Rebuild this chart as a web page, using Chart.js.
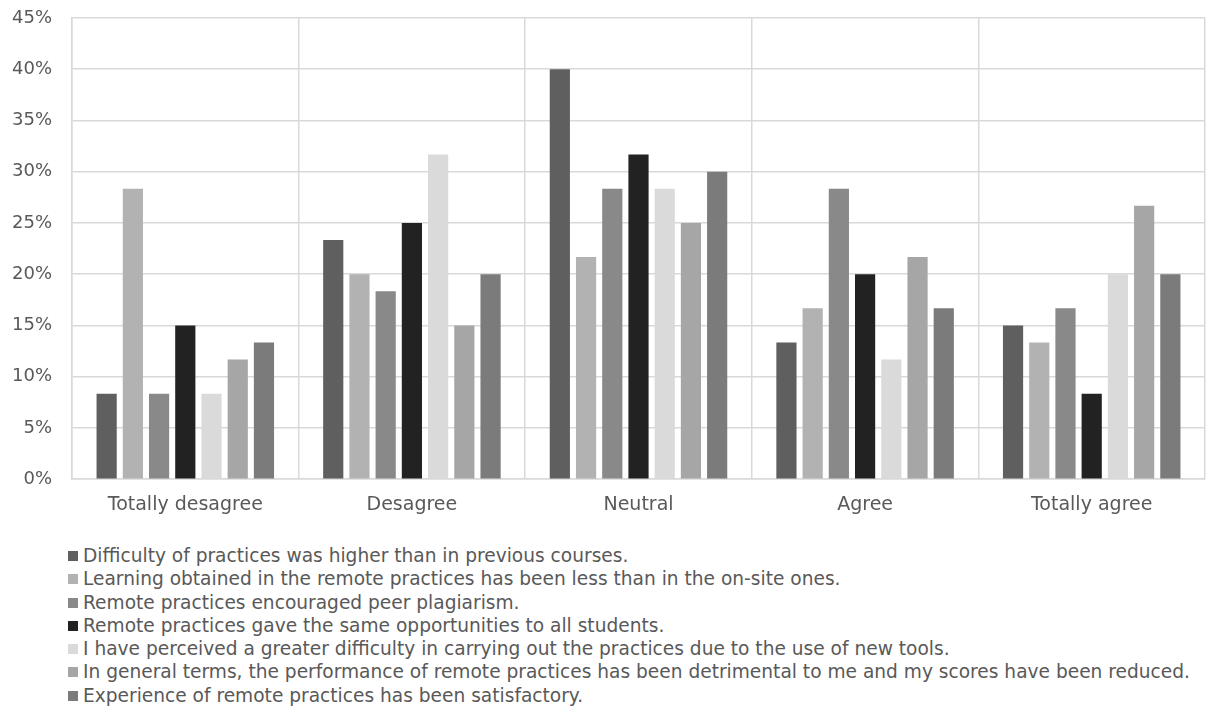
<!doctype html>
<html lang="en">
<head>
  <meta charset="utf-8">
  <title>Remote practices survey</title>
  <style>
    body { margin: 0; background: #fff; font-family: "DejaVu Sans", sans-serif; }
    #wrap { position: relative; width: 1207px; height: 709px; }
    #leyenda { position: absolute; left: 68px; top: 544px; color: #595959; font-size: 18.6px; line-height: 23.3px; }
    #leyenda div { white-space: nowrap; }
    #leyenda span.caja { display: inline-block; width: 10px; height: 10px; margin-right: 5px; vertical-align: 1px; }
  </style>
</head>
<body>
  <div id="wrap">
    <canvas id="grafico" width="1207" height="530"></canvas>
    <div id="leyenda"></div>
  </div>

  <script src="https://cdn.jsdelivr.net/npm/chart.js"></script>
  <script>
    const categorias = ['Totally desagree', 'Desagree', 'Neutral', 'Agree', 'Totally agree'];
    const series = [
      'Difficulty of practices was higher than in previous courses.',
      'Learning obtained in the remote practices has been less than in the on-site ones.',
      'Remote practices encouraged peer plagiarism.',
      'Remote practices gave the same opportunities to all students.',
      'I have perceived a greater difficulty in carrying out the practices due to the use of new tools.',
      'In general terms, the performance of remote practices has been detrimental to me and my scores have been reduced.',
      'Experience of remote practices has been satisfactory.'
    ];
    // percentages per category
    const dificultad    = [8.33, 23.33, 40.00, 13.33, 15.00];
    const aprendizaje   = [28.33, 20.00, 21.67, 16.67, 13.33];
    const plagio        = [8.33, 18.33, 28.33, 28.33, 16.67];
    const oportunidades = [15.00, 25.00, 31.67, 20.00, 8.33];
    const herramientas  = [8.33, 31.67, 28.33, 11.67, 20.00];
    const rendimiento   = [11.67, 15.00, 25.00, 21.67, 26.67];
    const satisfaccion  = [13.33, 20.00, 30.00, 16.67, 20.00];
    const valores = [dificultad, aprendizaje, plagio, oportunidades, herramientas, rendimiento, satisfaccion];
    const colores = ['#5f5f5f', '#b2b2b2', '#898989', '#222222', '#dadada', '#a6a6a6', '#7b7b7b'];

    const colorTexto = '#595959';
    const colorGrid = '#d9d9d9';

    const grafico = new Chart(document.getElementById('grafico'), {
      type: 'bar',
      data: {
        labels: categorias,
        datasets: series.map((s, i) => ({
          label: s,
          data: valores[i],
          backgroundColor: colores[i],
          categoryPercentage: 0.81,
          barPercentage: 0.77
        }))
      },
      options: {
        responsive: false,
        animation: false,
        layout: { padding: { top: 18, right: 2, bottom: 0, left: 0 } },
        plugins: {
          legend: { display: false },
          tooltip: { enabled: false }
        },
        scales: {
          x: {
            grid: { color: colorGrid, lineWidth: 1.5, drawTicks: false },
            border: { color: colorGrid, width: 1.5 },
            ticks: { color: colorTexto, font: { family: 'DejaVu Sans', size: 19 }, padding: 14 }
          },
          y: {
            min: 0,
            max: 45,
            afterFit: (scale) => { scale.width = 72; scale.paddingTop = 0; },
            grid: { color: colorGrid, lineWidth: 1.5, drawTicks: false },
            border: { color: colorGrid, width: 1.5 },
            ticks: {
              stepSize: 5,
              color: colorTexto,
              font: { family: 'DejaVu Sans', size: 18 },
              padding: 20,
              callback: v => v + '%'
            }
          }
        }
      }
    });

    // legend one item per line, like the original
    const leyenda = document.getElementById('leyenda');
    grafico.data.datasets.forEach(ds => {
      const fila = document.createElement('div');
      const caja = document.createElement('span');
      caja.className = 'caja';
      caja.style.background = ds.backgroundColor;
      fila.appendChild(caja);
      fila.appendChild(document.createTextNode(ds.label));
      leyenda.appendChild(fila);
    });
  </script>
</body>
</html>
